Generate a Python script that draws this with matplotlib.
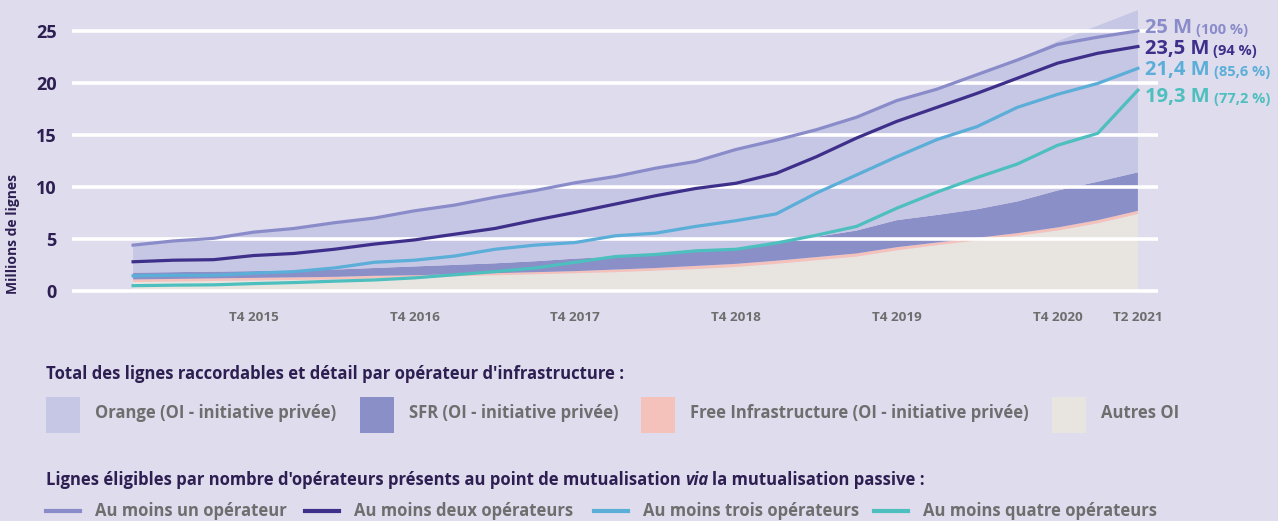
import numpy as np
import matplotlib.pyplot as plt
from matplotlib.patches import Rectangle
from matplotlib.lines import Line2D

plt.rcParams['font.family'] = ['Open Sans', 'DejaVu Sans']

# trimestres T1 2015 -> T2 2021
quarters = ['T1 2015', 'T2 2015', 'T3 2015', 'T4 2015',
            'T1 2016', 'T2 2016', 'T3 2016', 'T4 2016',
            'T1 2017', 'T2 2017', 'T3 2017', 'T4 2017',
            'T1 2018', 'T2 2018', 'T3 2018', 'T4 2018',
            'T1 2019', 'T2 2019', 'T3 2019', 'T4 2019',
            'T1 2020', 'T2 2020', 'T3 2020', 'T4 2020',
            'T1 2021', 'T2 2021']
tick_labels = ['T4 2015', 'T4 2016', 'T4 2017', 'T4 2018', 'T4 2019', 'T4 2020', 'T2 2021']

# lignes raccordables par OI (millions)
autres = [0.85, 0.9, 0.95, 1.0, 1.05, 1.1, 1.2, 1.3, 1.4, 1.5, 1.6, 1.7, 1.8,
          1.95, 2.1, 2.3, 2.6, 2.95, 3.3, 3.9, 4.4, 4.85, 5.3, 5.8, 6.5, 7.4]
free = [0.25, 0.25, 0.25, 0.25, 0.25, 0.25, 0.25, 0.2, 0.2, 0.2, 0.2, 0.2, 0.25,
        0.25, 0.3, 0.3, 0.3, 0.3, 0.3, 0.3, 0.25, 0.25, 0.25, 0.3, 0.3, 0.3]
sfr = [0.65, 0.65, 0.65, 0.65, 0.65, 0.7, 0.75, 0.85, 0.9, 0.95, 1.05, 1.2, 1.25,
       1.3, 1.4, 1.5, 1.7, 1.95, 2.2, 2.6, 2.65, 2.75, 3.05, 3.55, 3.7, 3.7]
orange = [2.65, 3.0, 3.2, 3.75, 4.05, 4.5, 4.8, 5.35, 5.75, 6.35, 6.8, 7.3, 7.7,
          8.3, 8.65, 9.5, 9.9, 10.3, 10.9, 11.5, 12.1, 12.95, 13.6, 14.35, 15.0, 15.6]

# lignes eligibles par nombre d'operateurs (millions)
un_op = [4.4, 4.8, 5.05, 5.65, 6.0, 6.55, 7.0, 7.7, 8.25, 9.0, 9.65, 10.4, 11.0,
         11.8, 12.45, 13.6, 14.5, 15.5, 16.7, 18.3, 19.4, 20.8, 22.2, 23.7, 24.4, 25.0]
deux_op = [2.8, 2.95, 3.0, 3.4, 3.6, 4.0, 4.5, 4.9, 5.45, 6.0, 6.8, 7.55, 8.35,
           9.15, 9.85, 10.35, 11.3, 12.9, 14.7, 16.3, 17.65, 19.0, 20.45, 21.9, 22.85, 23.5]
trois_op = [1.45, 1.5, 1.5, 1.7, 1.85, 2.2, 2.75, 2.95, 3.35, 4.0, 4.4, 4.65, 5.3,
            5.55, 6.2, 6.75, 7.4, 9.4, 11.15, 12.9, 14.55, 15.8, 17.65, 18.9, 19.95, 21.4]
quatre_op = [0.5, 0.55, 0.58, 0.7, 0.8, 0.93, 1.05, 1.25, 1.55, 1.85, 2.2, 2.75, 3.3,
             3.5, 3.85, 4.0, 4.6, 5.35, 6.2, 7.95, 9.5, 10.9, 12.2, 14.0, 15.15, 19.3]

end_labels = ['25 M', '23,5 M', '21,4 M', '19,3 M']
end_pcts = ['(100 %)', '(94 %)', '(85,6 %)', '(77,2 %)']

BG = '#dfdced'
DARK = '#2e1f52'
GREY = '#6e6e6e'
c_orange, c_sfr, c_free, c_autres = '#c6c6e5', '#8b8fc7', '#f4c2bb', '#e8e5e0'
c_un, c_deux, c_trois, c_quatre = '#8a8cca', '#3d2f8a', '#5aaed8', '#4dbfbe'

W, H = 1278, 521
def fx(px):
    return px / W
def fy(py):
    return 1 - py / H

fig = plt.figure(figsize=(W / 100, H / 100), dpi=100)
fig.patch.set_facecolor(BG)
ax = fig.add_axes([fx(72), fy(294), (1158 - 72) / W, (294 - 7) / H])
ax.set_facecolor(BG)

x = np.arange(len(quarters))
ax.stackplot(x, autres, free, sfr, orange,
             colors=[c_autres, c_free, c_sfr, c_orange], linewidth=0, zorder=1)

yticks = [0, 5, 10, 15, 20, 25]
for v in yticks:
    ax.axhline(v, color='white', lw=2.6, zorder=1.5)

series = [un_op, deux_op, trois_op, quatre_op]
colors = [c_un, c_deux, c_trois, c_quatre]
for s, c in zip(series, colors):
    ax.plot(x, s, color=c, lw=2.3, zorder=3, solid_joinstyle='round')

ax.set_xlim(-1.52, 25.5)
ax.set_ylim(-0.3, 27.3)
ax.set_yticks(yticks)
ax.set_yticklabels([str(v) for v in yticks], fontsize=13, fontweight='bold', color=DARK)
tick_idx = [quarters.index(t) for t in tick_labels]
ax.set_xticks(tick_idx)
ax.set_xticklabels(tick_labels, fontsize=9.7, fontweight='bold', color=GREY)
ax.tick_params(axis='y', length=0, pad=11)
ax.tick_params(axis='x', length=0, pad=12)
for sp in ax.spines.values():
    sp.set_visible(False)

fig.text(fx(13), fy(234), 'Millions de lignes', rotation=90, ha='center', va='center',
         fontsize=10, fontweight='bold', color=DARK)

# etiquettes de fin de courbe
offsets = [2, -2, -1.5, -5]
for s, c, lab, pct, dy in zip(series, colors, end_labels, end_pcts, offsets):
    big = ax.annotate(lab, xy=(x[-1], s[-1]), xytext=(5, dy), textcoords='offset points',
                      ha='left', va='center', fontsize=14.5, fontweight='bold', color=c,
                      annotation_clip=False)
    ax.annotate(pct, xy=(1, 0), xycoords=big, xytext=(3, 1), textcoords='offset points',
                ha='left', va='bottom', fontsize=10.5, fontweight='bold', color=c,
                annotation_clip=False)

# legende : surfaces
FS = 12
fig.text(fx(46), fy(374), "Total des lignes raccordables et détail par opérateur d'infrastructure :",
         ha='left', va='center', fontsize=FS, fontweight='bold', color=DARK)
areas = [('Orange (OI - initiative privée)', c_orange, 46),
         ('SFR (OI - initiative privée)', c_sfr, 360),
         ('Free Infrastructure (OI - initiative privée)', c_free, 641),
         ('Autres OI', c_autres, 1052)]
for lab, c, px in areas:
    fig.patches.append(Rectangle((fx(px), fy(433)), 34 / W, 36 / H, transform=fig.transFigure,
                                 facecolor=c, edgecolor='none'))
    fig.text(fx(px + 49), fy(413), lab, ha='left', va='center', fontsize=FS,
             fontweight='bold', color=GREY)

# legende : courbes
t1 = fig.text(fx(46), fy(480), "Lignes éligibles par nombre d'opérateurs présents au point de mutualisation",
              ha='left', va='center', fontsize=FS, fontweight='bold', color=DARK)
t2 = fig.text(0, 0, 'via', fontsize=FS, fontweight='bold', style='italic', color=DARK,
              ha='left', va='bottom')
t3 = fig.text(0, 0, 'la mutualisation passive :', fontsize=FS, fontweight='bold', color=DARK,
              ha='left', va='bottom')
fig.canvas.draw()
r = fig.canvas.get_renderer()
bb = t1.get_window_extent(r)
t2.set_position(((bb.x1 + 4) / W, bb.y0 / H))
bb2 = t2.get_window_extent(r)
t3.set_position(((bb2.x1 + 4) / W, bb.y0 / H))

line_items = [('Au moins un opérateur', c_un, 46),
              ('Au moins deux opérateurs', c_deux, 305),
              ('Au moins trois opérateurs', c_trois, 594),
              ('Au moins quatre opérateurs', c_quatre, 874)]
for lab, c, px in line_items:
    fig.lines.append(Line2D([fx(px), fx(px + 34)], [fy(511), fy(511)], transform=fig.transFigure,
                            color=c, lw=3))
    fig.text(fx(px + 49), fy(511), lab, ha='left', va='center', fontsize=FS,
             fontweight='bold', color=GREY)

fig.savefig('out.png', dpi=100, facecolor=BG)
